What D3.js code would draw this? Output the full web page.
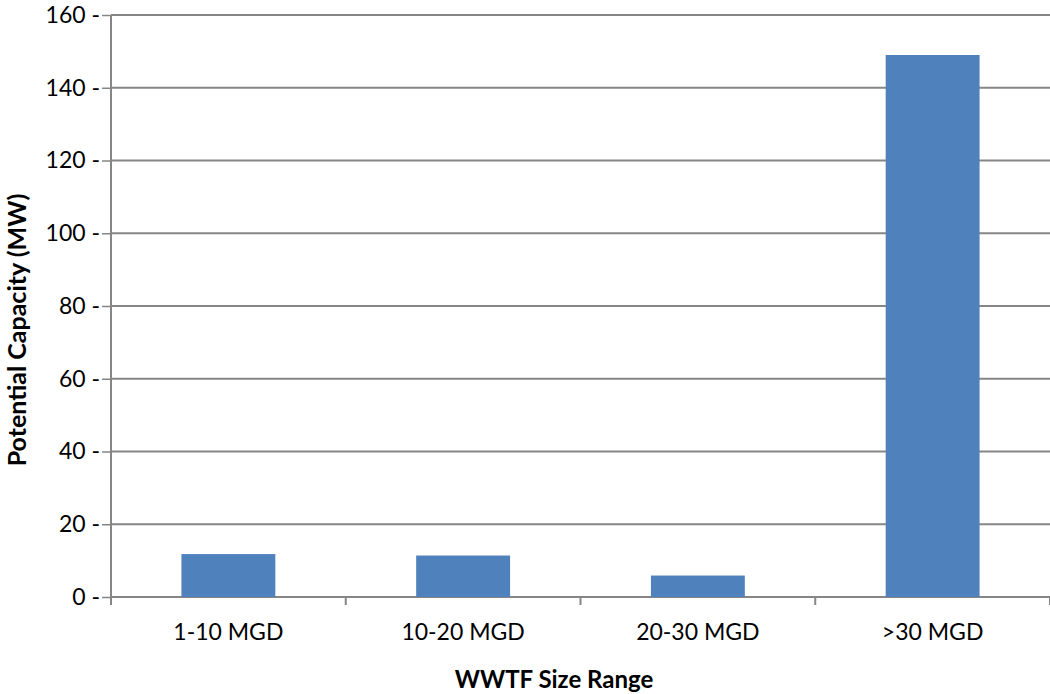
<!DOCTYPE html>
<html>
<head>
<meta charset="utf-8">
<script src="https://cdn.jsdelivr.net/npm/d3@7"></script>
<style>
  body { margin: 0; background: #fff; }
  text { font-family: Lato, "Open Sans", sans-serif; fill: #000; }
</style>
</head>
<body>
<div id="chart"></div>
<script>
// Chart data
var categories = ["1-10 MGD", "10-20 MGD", "20-30 MGD", ">30 MGD"];
var capacity = [11.8, 11.4, 5.9, 149];
var yTicks = [0, 20, 40, 60, 80, 100, 120, 140, 160];

// Placement
var width = 1050, height = 694,
  mLeft = 111, mTop = 15,
  plotRight = 1050, plotBottom = 597;

var gridColor = "#868686",
  barColor = "#4F81BD";

var svg = d3.select("#chart")
  .append("svg")
  .attr("width", width)
  .attr("height", height);

var x = d3.scaleBand()
  .domain(categories)
  .range([mLeft, plotRight])
  .paddingInner(0.6)
  .paddingOuter(0.3);

var y = d3.scaleLinear()
  .domain([0, 160])
  .range([plotBottom, mTop]);

// horizontal gridlines
svg.append("g").selectAll("line")
  .data(yTicks)
  .enter().append("line")
  .attr("x1", mLeft)
  .attr("x2", plotRight)
  .attr("y1", function(d) { return y(d); })
  .attr("y2", function(d) { return y(d); })
  .attr("stroke", gridColor)
  .attr("stroke-width", 2);

// y axis (labels carry the little dash seen in the original)
var yAxis = d3.axisLeft(y)
  .tickValues(yTicks)
  .tickSize(9)
  .tickPadding(2)
  .tickFormat(function(d) { return d + " -"; });
var yG = svg.append("g")
  .attr("transform", "translate(" + mLeft + ",0)")
  .call(yAxis);
yG.select(".domain").remove();
yG.selectAll(".tick line").attr("stroke", gridColor).attr("stroke-width", 1.5);
yG.selectAll(".tick text").style("font-size", "23px").attr("fill", "#000");

svg.append("line")
  .attr("x1", mLeft).attr("x2", mLeft)
  .attr("y1", mTop).attr("y2", plotBottom + 8)
  .attr("stroke", gridColor)
  .attr("stroke-width", 2);

// category boundary ticks
var step = x.step();
var bounds = d3.range(categories.length + 1).map(function(i) { return mLeft + i * step; });
svg.append("g").selectAll("line")
  .data(bounds)
  .enter().append("line")
  .attr("x1", function(d) { return d; })
  .attr("x2", function(d) { return d; })
  .attr("y1", plotBottom)
  .attr("y2", plotBottom + 8)
  .attr("stroke", gridColor)
  .attr("stroke-width", 2);

// bars
svg.append("g").selectAll("rect")
  .data(capacity)
  .enter().append("rect")
  .attr("x", function(d, i) { return x(categories[i]); })
  .attr("width", x.bandwidth())
  .attr("y", function(d) { return y(d); })
  .attr("height", function(d) { return y(0) - y(d); })
  .attr("fill", barColor);

// category labels
svg.append("g").selectAll("text")
  .data(categories)
  .enter().append("text")
  .attr("x", function(d) { return x(d) + x.bandwidth() / 2; })
  .attr("y", 640)
  .attr("text-anchor", "middle")
  .style("font-size", "23px")
  .text(function(d) { return d; });

// axis titles
svg.append("text")
  .attr("x", 554)
  .attr("y", 688)
  .attr("text-anchor", "middle")
  .style("font-size", "24px")
  .style("font-weight", "bold")
  .text("WWTF Size Range");

svg.append("text")
  .attr("transform", "translate(26,330)rotate(-90)")
  .attr("text-anchor", "middle")
  .style("font-size", "25px")
  .style("font-weight", "bold")
  .text("Potential Capacity (MW)");
</script>
</body>
</html>
